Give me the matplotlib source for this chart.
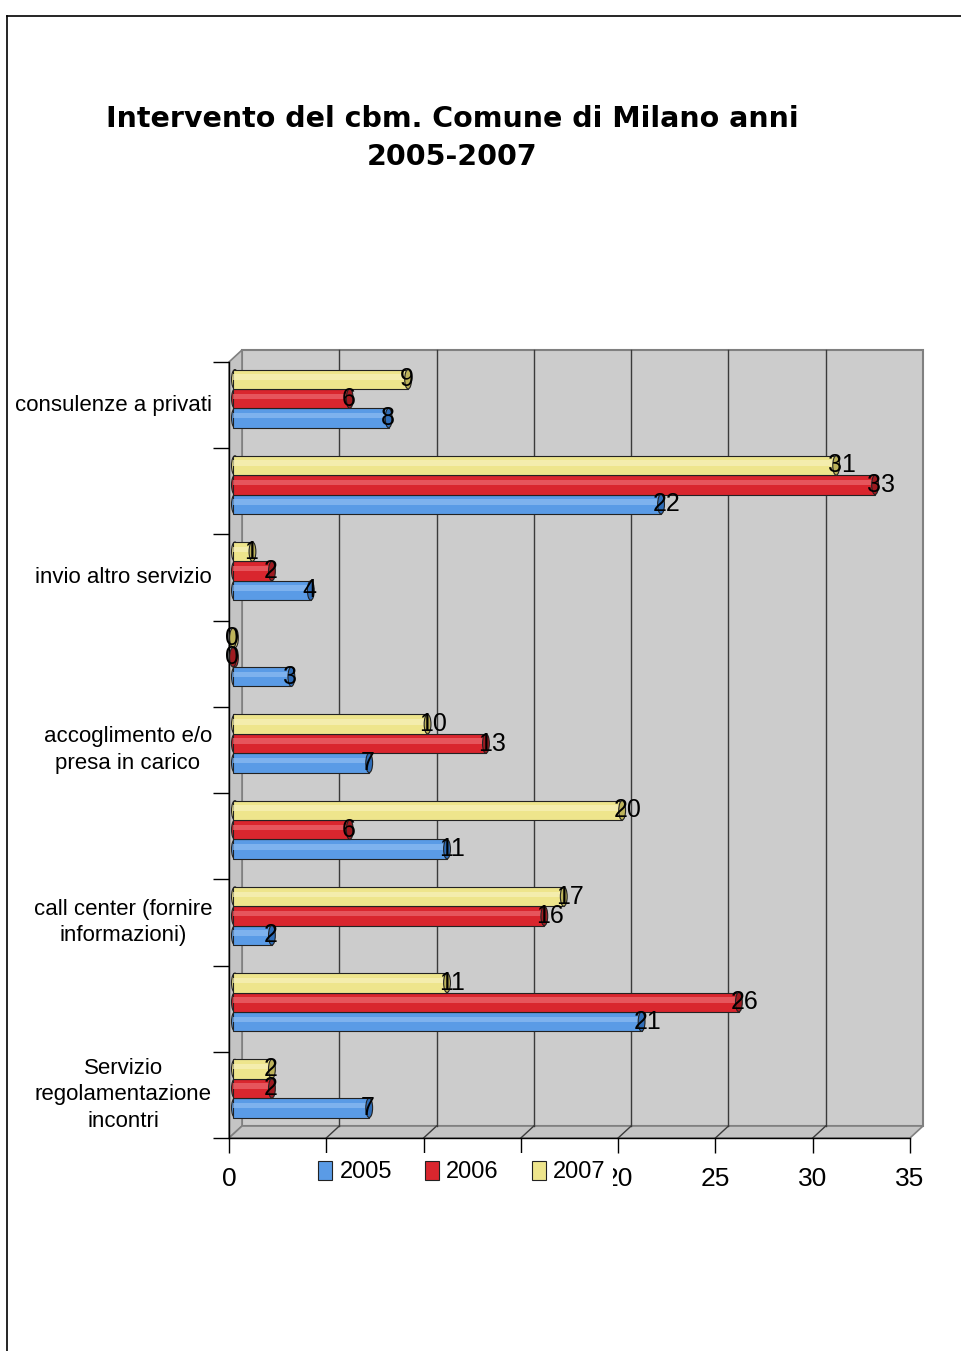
import matplotlib.pyplot as plt
import matplotlib.transforms as mtransforms
from matplotlib.patches import Polygon, Rectangle, Ellipse, Patch
from matplotlib.lines import Line2D

# Dati (dall'alto verso il basso)
categorie = ["consulenze a privati", "", "invio altro servizio", "",
             "accoglimento e/o\npresa in carico", "",
             "call center (fornire\ninformazioni)", "",
             "Servizio\nregolamentazione\nincontri"]
anni = ["2005", "2006", "2007"]
v2005 = [8, 22, 4, 3, 7, 11, 2, 21, 7]
v2006 = [6, 33, 2, 0, 13, 6, 16, 26, 2]
v2007 = [9, 31, 1, 0, 10, 20, 17, 11, 2]
xticks = [0, 5, 10, 15, 20, 25, 30, 35]

colori = {"2005": "#5A9BE6", "2006": "#D9262E", "2007": "#EEE58C"}
scuri = {"2005": "#2F6DB8", "2006": "#9E1A20", "2007": "#BDB35A"}
chiari = {"2005": "#8EBCF2", "2006": "#EC6A70", "2007": "#F7F1BC"}
offs = {"2005": -0.15, "2006": 0.075, "2007": 0.30}
h = 0.225

W, H = 961, 1351
fig = plt.figure(figsize=(W / 100, H / 100), dpi=100)
ax = fig.add_axes([229 / W, 1 - 1138 / H, 681 / W, 776 / H])
ax.patch.set_visible(False)

# profondita' 3D in unita' dati
dx = 13 / 681 * 35
dy = 12 / 776 * 9

# pareti
ax.add_patch(Rectangle((dx, dy), 35, 9, fc="#CCCCCC", ec="#808080", lw=1.5,
                       clip_on=False, zorder=0.5))
ax.add_patch(Polygon([(0, 0), (dx, dy), (dx, 9 + dy), (0, 9)], closed=True,
                     fc="#C4C4C4", ec="#808080", lw=1.2, clip_on=False, zorder=0.6))
ax.add_patch(Polygon([(0, 0), (35, 0), (35 + dx, dy), (dx, dy)], closed=True,
                     fc="#C4C4C4", ec="#808080", lw=1.2, clip_on=False, zorder=0.6))
for x in xticks[1:-1]:
    ax.plot([x + dx, x + dx], [dy, 9 + dy], color="#3A3A3A", lw=1, clip_on=False, zorder=0.7)
    ax.plot([x, x + dx], [0, dy], color="#3A3A3A", lw=1, clip_on=False, zorder=0.7)

tr_bar = mtransforms.offset_copy(ax.transData, fig=fig, x=4, y=0, units="dots")
tr_lab = mtransforms.offset_copy(ax.transData, fig=fig, x=-4, y=0, units="dots")
tr_cat = mtransforms.offset_copy(ax.transData, fig=fig, x=-17, y=0, units="dots")

serie = {"2005": v2005, "2006": v2006, "2007": v2007}
for anno in anni:
    vals = serie[anno]
    ys = [8.5 - i + offs[anno] for i in range(len(vals))]
    ax.barh(ys, vals, height=h, color=colori[anno], edgecolor="#222222", lw=0.8,
            transform=tr_bar, zorder=3)
    # riflesso del cilindro
    ax.barh([y + h * 0.12 for y in ys], vals, height=h * 0.28, color=chiari[anno],
            lw=0, alpha=0.7, transform=tr_bar, zorder=3.1)
    for v, y in zip(vals, ys):
        ax.add_patch(Ellipse((0.1, y), 0.35, h, fc=colori[anno], ec="#222222", lw=0.8,
                             transform=tr_bar, zorder=2.9))
        ax.add_patch(Ellipse((v, y), 0.35, h, fc=scuri[anno], ec="#222222", lw=0.8,
                             transform=tr_bar, zorder=3.2))
        ax.text(v, y, str(v), transform=tr_lab, ha="left", va="center",
                fontsize=18, family="Liberation Sans", zorder=4)

for i, c in enumerate(categorie):
    if c:
        ax.text(0, 8.5 - i, c, transform=tr_cat, ha="right", va="center",
                multialignment="center", fontsize=16, family="Liberation Sans",
                linespacing=1.36)

ax.set_xlim(0, 35)
ax.set_ylim(0, 9)
ax.set_xticks(xticks)
ax.set_xticklabels([str(x) for x in xticks], fontsize=19, family="Liberation Sans")
ax.set_yticks(range(10))
ax.set_yticklabels([])
ax.tick_params(axis="x", length=11, width=1, pad=10, color="black")
ax.tick_params(axis="y", length=11.5, width=1, color="black")
for s in ["top", "right"]:
    ax.spines[s].set_visible(False)
for s in ["left", "bottom"]:
    ax.spines[s].set_color("black")
    ax.spines[s].set_linewidth(1)

handles = [Patch(fc=colori[a], ec="#222222", lw=0.8) for a in anni]
leg = fig.legend(handles, anni, loc="center", bbox_to_anchor=(462 / W, 1 - 1172 / H),
                 ncol=3, frameon=True, facecolor="white", edgecolor="none",
                 handlelength=0.6, handleheight=0.9, handletextpad=0.3,
                 columnspacing=1.4, borderpad=0.3, fancybox=False, framealpha=1,
                 prop={"family": "Liberation Sans", "size": 17})

fig.text(452 / W, 1 - 138 / H, "Intervento del cbm. Comune di Milano anni\n2005-2007",
         ha="center", va="center", fontsize=20.5, weight="bold", family="DejaVu Sans",
         linespacing=1.45)

# cornice della pagina
fig.add_artist(Line2D([7 / W, 1], [1 - 16 / H, 1 - 16 / H], color="black", lw=1.2))
fig.add_artist(Line2D([7 / W, 7 / W], [0, 1 - 16 / H], color="black", lw=1.2))

fig.savefig("out.png", dpi=100)
